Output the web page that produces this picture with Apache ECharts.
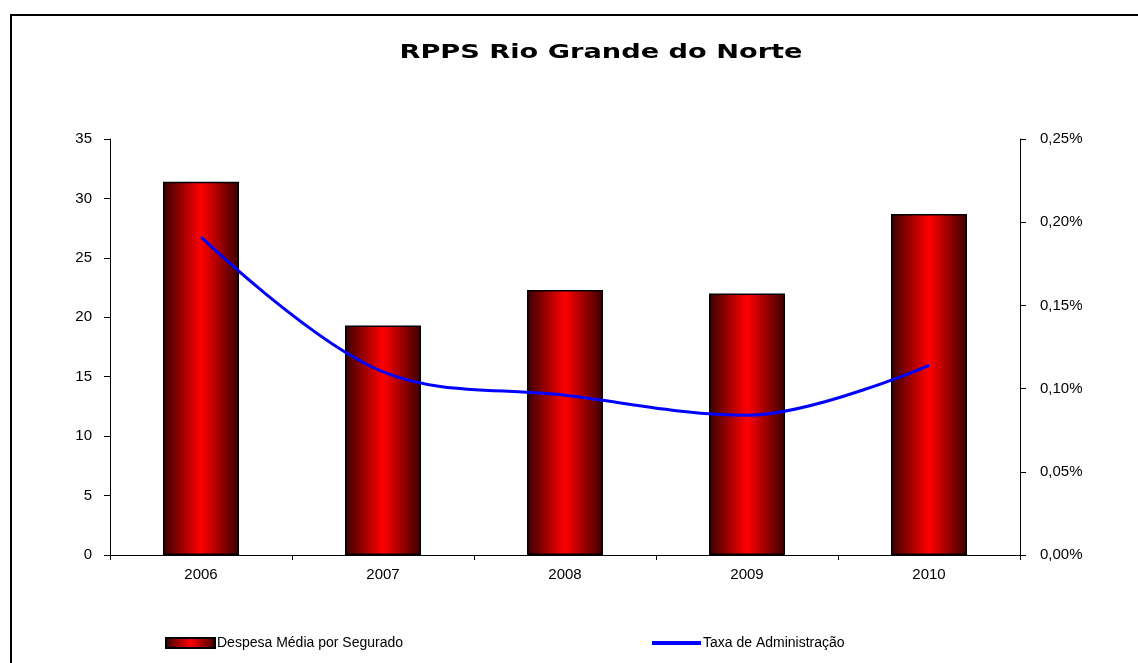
<!DOCTYPE html>
<html>
<head>
<meta charset="utf-8">
<script src="https://cdn.jsdelivr.net/npm/echarts@6/dist/echarts.min.js"></script>
<style>
	html, body { margin: 0; padding: 0; background: #fff; }
	#chart { width: 1138px; height: 663px; }
</style>
</head>
<body>
<div id="chart"></div>
<script>
const years = ['2006', '2007', '2008', '2009', '2010']
const despesaMedia = [31.4, 19.3, 22.3, 22.0, 28.7]
const taxaAdmin = [0.191, 0.110, 0.096, 0.084, 0.114]
const leftTicks = [0, 35, 5]
const rightTicks = [0, 0.25, 0.05]

const node = document.getElementById('chart')
const myChart = echarts.init(node)

const font = 'Liberation Sans, Arial, sans-serif'
const barFill = {
	type: 'linear', x: 0, y: 0, x2: 1, y2: 0,
	colorStops: [
		{ offset: 0, color: '#3a0000' },
		{ offset: 0.5, color: '#ff0000' },
		{ offset: 1, color: '#3a0000' }
	]
}

const option = {
	animation: false,
	backgroundColor: '#fff',
	graphic: [
		{
			type: 'rect',
			shape: { x: 11, y: 15, width: 1300, height: 800 },
			style: { fill: 'none', stroke: '#000', lineWidth: 2 },
			silent: true
		},
		{
			// titulo esticado para ficar com a largura do original
			type: 'text',
			x: 601,
			y: 53,
			scaleX: 1.36,
			style: {
				text: 'RPPS Rio Grande do Norte',
				font: 'bold 20px "DejaVu Sans", sans-serif',
				fill: '#000',
				align: 'center',
				verticalAlign: 'middle'
			},
			silent: true
		}
	],
	legend: [
		{
			left: 165,
			top: 636,
			padding: 0,
			itemWidth: 49,
			itemHeight: 10,
			data: [{ name: 'Despesa Média por Segurado', icon: 'rect' }],
			textStyle: { fontFamily: font, fontSize: 14, color: '#000', padding: [0, 0, 0, -3] }
		},
		{
			left: 652,
			top: 636,
			padding: 0,
			itemWidth: 49,
			itemHeight: 4,
			data: [{ name: 'Taxa de Administração', icon: 'rect' }],
			textStyle: { fontFamily: font, fontSize: 14, color: '#000', padding: [0, 0, 0, -3] }
		}
	],
	grid: { left: 110, right: 118, top: 139, bottom: 108 },
	xAxis: {
		type: 'category',
		data: years,
		axisLine: { lineStyle: { color: '#000', width: 1 } },
		axisTick: { show: true, length: 5, lineStyle: { color: '#000' } },
		axisLabel: { color: '#000', fontFamily: font, fontSize: 15, margin: 12 }
	},
	yAxis: [
		{
			type: 'value',
			min: leftTicks[0],
			max: leftTicks[1],
			interval: leftTicks[2],
			splitLine: { show: false },
			axisLine: { show: true, lineStyle: { color: '#000' } },
			axisTick: { show: true, length: 6, lineStyle: { color: '#000' } },
			axisLabel: { color: '#000', fontFamily: font, fontSize: 15, margin: 18 }
		},
		{
			type: 'value',
			min: rightTicks[0],
			max: rightTicks[1],
			interval: rightTicks[2],
			splitLine: { show: false },
			axisLine: { show: true, lineStyle: { color: '#000' } },
			axisTick: { show: true, length: 6, lineStyle: { color: '#000' } },
			axisLabel: {
				color: '#000', fontFamily: font, fontSize: 15, margin: 20,
				formatter: v => v.toFixed(2).replace('.', ',') + '%'
			}
		}
	],
	series: [
		{
			name: 'Despesa Média por Segurado',
			type: 'bar',
			data: despesaMedia,
			barWidth: 76,
			itemStyle: { color: barFill, borderColor: '#000', borderWidth: 1.5 }
		},
		{
			name: 'Taxa de Administração',
			type: 'line',
			yAxisIndex: 1,
			data: taxaAdmin,
			smooth: 0.35,
			symbol: 'none',
			itemStyle: { color: '#0000ff' },
			lineStyle: { color: '#0000ff', width: 3 }
		}
	]
}

myChart.setOption(option)
</script>
</body>
</html>
